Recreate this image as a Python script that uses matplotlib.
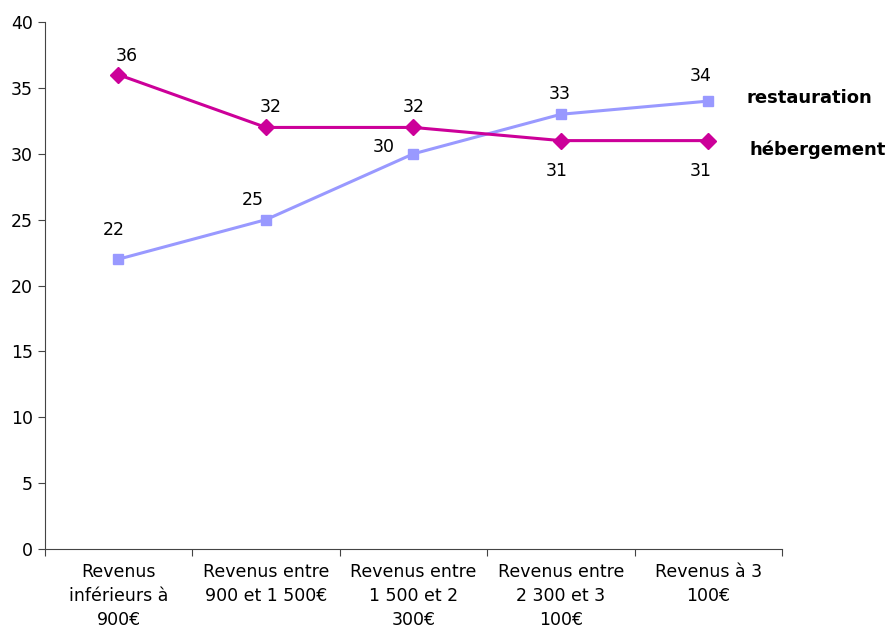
import numpy as np
import matplotlib.pyplot as plt

categories = ['Revenus\ninférieurs à\n900€', 'Revenus entre\n900 et 1 500€',
              'Revenus entre\n1 500 et 2\n300€', 'Revenus entre\n2 300 et 3\n100€',
              'Revenus à 3\n100€']
hebergement = [36, 32, 32, 31, 31]
restauration = [22, 25, 30, 33, 34]

# label offsets in pixels (dx, dy)
heb_off = [(8, 19), (5, 20), (0, 20), (-4, -30), (-8, -30)]
res_off = [(-5, 29), (-13, 20), (-30, 7), (-1, 20), (-8, 25)]

plt.rcParams['font.family'] = ['DejaVu Sans']
fs = 12.5
fig = plt.figure(figsize=(8.95, 6.3), dpi=100)
ax = fig.add_axes([0.050, 0.1286, 0.824, 0.8364])

x = np.arange(len(categories))
c_heb = '#CC0099'
c_res = '#9999FF'
ax.plot(x, hebergement, color=c_heb, lw=2.2, marker='D', ms=8, zorder=3)
ax.plot(x, restauration, color=c_res, lw=2.2, marker='s', ms=7, zorder=2)

for xi, v, (dx, dy) in zip(x, hebergement, heb_off):
    ax.annotate(str(v), (xi, v), xytext=(dx, dy), textcoords='offset pixels',
                ha='center', va='center', fontsize=fs)
for xi, v, (dx, dy) in zip(x, restauration, res_off):
    ax.annotate(str(v), (xi, v), xytext=(dx, dy), textcoords='offset pixels',
                ha='center', va='center', fontsize=fs)

ax.annotate('restauration', (x[-1], restauration[-1]), xytext=(38, 3),
            textcoords='offset pixels', ha='left', va='center',
            fontsize=13, fontweight='bold', annotation_clip=False)
ax.annotate('hébergement', (x[-1], hebergement[-1]), xytext=(41, -9),
            textcoords='offset pixels', ha='left', va='center',
            fontsize=13, fontweight='bold', annotation_clip=False)

ax.set_xlim(-0.5, 4.5)
ax.set_ylim(0, 40)
ax.set_yticks(range(0, 41, 5))
ax.set_xticks(np.arange(-0.5, 5, 1))
ax.set_xticklabels([])
ax.set_xticks(x, minor=True)
ax.set_xticklabels(categories, minor=True, fontsize=fs)
ax.tick_params(axis='x', which='minor', length=0, pad=10)
ax.tick_params(axis='x', which='major', length=5, color='#444444')
ax.tick_params(axis='y', length=5, labelsize=fs, color='#444444')
for t in ax.get_xticklabels(minor=True):
    t.set_linespacing(1.45)
for s in ['top', 'right']:
    ax.spines[s].set_visible(False)
for s in ['left', 'bottom']:
    ax.spines[s].set_color('#444444')

fig.savefig('out.png', dpi=100)
